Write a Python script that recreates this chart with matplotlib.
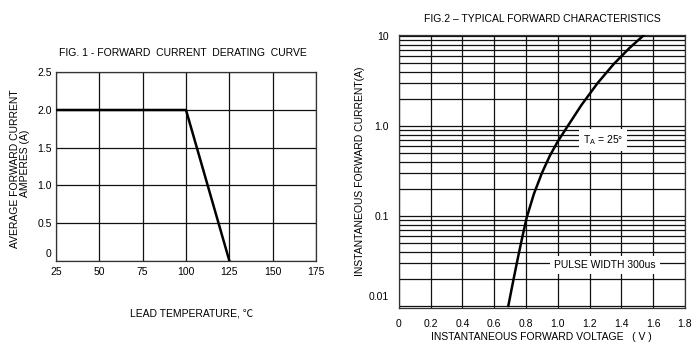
import matplotlib
matplotlib.use('Agg')
import matplotlib.pyplot as plt
import matplotlib.transforms as mtransforms
from matplotlib.ticker import LogLocator, NullFormatter, FixedLocator

plt.rcParams['font.family'] = ['Liberation Sans', 'Noto Sans CJK SC', 'DejaVu Sans']

# ---- Fig. 1 data: forward current derating curve ----
lead_temp = [25, 100, 125]
avg_current = [2.0, 2.0, 0.0]
x1_ticks = [25, 50, 75, 100, 125, 150, 175]
x1_labels = ['25', '50', '75', '100', '125', '150', '175']
y1_ticks = [0, 0.5, 1.0, 1.5, 2.0, 2.5]
y1_labels = ['0', '0.5', '1.0', '1.5', '2.0', '2.5']

# ---- Fig. 2 data: typical forward characteristics ----
fwd_voltage = [0.689, 0.72, 0.75, 0.78, 0.805, 0.85, 0.90, 0.95,
               1.00, 1.063, 1.15, 1.25, 1.35, 1.45, 1.559]
fwd_current = [0.0100, 0.0190, 0.0347, 0.0615, 0.0964, 0.176, 0.299, 0.466,
               0.673, 1.0, 1.72, 2.99, 4.84, 7.33, 10.9]
x2_ticks = [0, 0.2, 0.4, 0.6, 0.8, 1.0, 1.2, 1.4, 1.6, 1.8]
x2_labels = ['0', '0.2', '0.4', '0.6', '0.8', '1.0', '1.2', '1.4', '1.6', '1.8']
y2_ticks = [0.01, 0.1, 1.0, 10]
y2_labels = ['0.01', '0.1', '1.0', '10']

W, H = 700, 362
fig = plt.figure(figsize=(7.0, 3.62), dpi=100)

def fx(px):
    return px / W

def fy(py):
    return 1 - py / H

grid_kw = dict(color='#111111', linewidth=0.9)
fs = 7.5

# ---------- Left chart ----------
ax1 = fig.add_axes([fx(56), fy(260.7), fx(316 - 56), (260.7 - 72.3) / H])
ax1.plot(lead_temp, avg_current, color='black', linewidth=1.8, zorder=3)
ax1.set_xlim(25, 175)
ax1.set_ylim(0, 2.5)
ax1.set_xticks(x1_ticks)
ax1.set_xticklabels(x1_labels)
ax1.set_yticks(y1_ticks)
ax1.set_yticklabels(y1_labels)
ax1.grid(True, **grid_kw)
ax1.set_axisbelow(True)
ax1.tick_params(length=0, labelsize=fs)
ax1.tick_params(axis='x', pad=4.5)
ax1.tick_params(axis='y', pad=3)
for s in ax1.spines.values():
    s.set_color('#333333')
    s.set_linewidth(0.9)
# shift the "0" label up as in the reference
lab0 = ax1.get_yticklabels()[0]
lab0.set_transform(lab0.get_transform() + mtransforms.ScaledTranslation(0, 8 / 100, fig.dpi_scale_trans))

fig.text(fx(182.5), fy(53.3), 'FIG. 1 - FORWARD  CURRENT  DERATING  CURVE',
         ha='center', va='center', fontsize=fs)
fig.text(fx(15.5), fy(169), 'AVERAGE FORWARD CURRENT', rotation=90,
         ha='center', va='center', fontsize=fs)
fig.text(fx(20.3), fy(163), 'AMPERES (A)', rotation=90,
         ha='left', va='center', fontsize=fs)
fig.text(fx(192), fy(313.3), 'LEAD TEMPERATURE, ℃', ha='center', va='center', fontsize=fs)

# ---------- Right chart ----------
ax2 = fig.add_axes([fx(398.7), fy(307.7), fx(685 - 398.7), (307.7 - 35) / H])
ax2.plot(fwd_voltage, fwd_current, color='black', linewidth=1.8, zorder=3)
ax2.set_yscale('log')
ax2.set_xlim(0, 1.8)
ax2.set_ylim(0.00957, 10.26)
ax2.set_xticks(x2_ticks)
ax2.set_xticklabels(x2_labels)
ax2.yaxis.set_major_locator(FixedLocator(y2_ticks))
ax2.set_yticklabels(y2_labels)
ax2.yaxis.set_minor_locator(LogLocator(base=10, subs=range(2, 10)))
ax2.yaxis.set_minor_formatter(NullFormatter())
ax2.grid(True, which='major', **grid_kw)
ax2.grid(True, which='minor', axis='y', **grid_kw)
ax2.set_axisbelow(True)
ax2.tick_params(which='both', length=0, labelsize=fs)
ax2.tick_params(axis='x', pad=8)
ax2.tick_params(axis='y', pad=7)
for s in ax2.spines.values():
    s.set_color('#333333')
    s.set_linewidth(0.9)
lab001 = ax2.get_yticklabels()[0]
lab001.set_transform(lab001.get_transform() + mtransforms.ScaledTranslation(0, 10 / 100, fig.dpi_scale_trans))

ax2.text(1.284, 0.70, r'T$_\mathregular{A}$ = 25°', ha='center', va='center', fontsize=fs,
         bbox=dict(facecolor='white', edgecolor='none', pad=3), zorder=4)
ax2.text(1.298, 0.0285, 'PULSE WIDTH 300us', ha='center', va='center', fontsize=fs,
         bbox=dict(facecolor='white', edgecolor='none', pad=3), zorder=4)

fig.text(fx(542.7), fy(19.3), 'FIG.2 – TYPICAL FORWARD CHARACTERISTICS',
         ha='center', va='center', fontsize=fs)
fig.text(fx(360), fy(171), 'INSTANTANEOUS FORWARD CURRENT(A)', rotation=90,
         ha='center', va='center', fontsize=fs)
fig.text(fx(541.7), fy(336.7), 'INSTANTANEOUS FORWARD VOLTAGE   ( V )',
         ha='center', va='center', fontsize=fs)

fig.savefig('out.png', dpi=100, facecolor='white')
